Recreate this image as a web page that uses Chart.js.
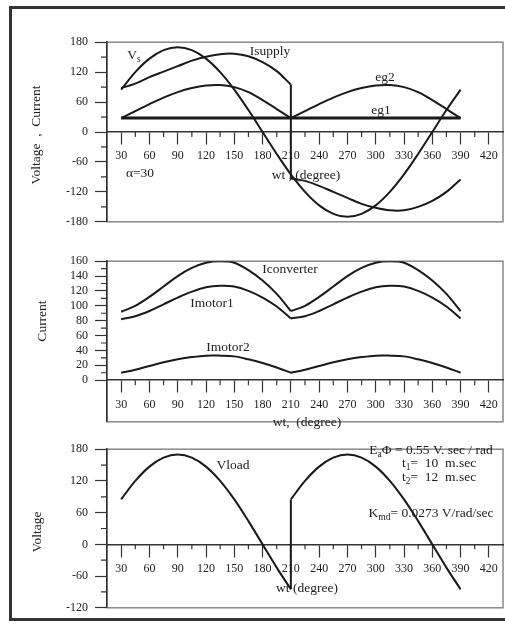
<!DOCTYPE html>
<html>
<head>
<meta charset="utf-8">
<script src="https://cdn.jsdelivr.net/npm/chart.js@4.4.1/dist/chart.umd.min.js"></script>
<style>
  body { margin: 0; background: #fff; width: 505px; height: 632px; overflow: hidden; position: relative;
         font-family: 'Liberation Serif', 'Times New Roman', serif; color: #222; }
  #frame { position: absolute; left: 9px; top: 6px; width: 520px; height: 609px; border: 3px solid #333; }
  canvas { position: absolute; left: 0; }
  .t { position: absolute; transform: translate(-50%, -50%); white-space: pre; font-size: 13.5px; line-height: 1; }
  .r { transform: translate(-50%, -50%) rotate(-90deg); }
  sub { font-size: 9.5px; vertical-align: -3px; line-height: 0; }
</style>
</head>
<body>
<div id="frame"></div>
<canvas id="c1"></canvas>
<canvas id="c2"></canvas>
<canvas id="c3"></canvas>

<!-- top chart labels -->
<div class="t r" style="left:36px;top:135px">Voltage  ,  Current</div>
<div class="t" style="left:134px;top:55px">V<sub>s</sub></div>
<div class="t" style="left:270px;top:51px">Isupply</div>
<div class="t" style="left:385px;top:77px">eg2</div>
<div class="t" style="left:381px;top:110px">eg1</div>
<div class="t" style="left:140px;top:173px">α=30</div>
<div class="t" style="left:306px;top:175px">wt , (degree)</div>

<!-- middle chart labels -->
<div class="t r" style="left:42px;top:321px">Current</div>
<div class="t" style="left:290px;top:269px">Iconverter</div>
<div class="t" style="left:212px;top:303px">Imotor1</div>
<div class="t" style="left:228px;top:347px">Imotor2</div>
<div class="t" style="left:307px;top:422px">wt,  (degree)</div>

<!-- bottom chart labels -->
<div class="t r" style="left:37px;top:532px">Voltage</div>
<div class="t" style="left:233px;top:465px">Vload</div>
<div class="t" style="left:431px;top:450px">E<sub>a</sub>Φ = 0.55 V. sec / rad</div>
<div class="t" style="left:439px;top:463px">t<sub>1</sub>=  10  m.sec</div>
<div class="t" style="left:439px;top:477px">t<sub>2</sub>=  12  m.sec</div>
<div class="t" style="left:431px;top:513px">K<sub>md</sub>= 0.0273 V/rad/sec</div>
<div class="t" style="left:307px;top:588px">wt (degree)</div>

<script>
// angle (degrees) samples
const deg = [30, 45, 60, 75, 90, 105, 120, 135, 150, 165, 180, 195, 210,
             225, 240, 255, 270, 285, 300, 315, 330, 345, 360, 375, 390];
const degA = deg.slice(0, 13);   // 30..210
const degB = deg.slice(12);      // 210..390

const xTicks = [30, 60, 90, 120, 150, 180, 210, 240, 270, 300, 330, 360, 390, 420];
const yTicks1 = [-180, -120, -60, 0, 60, 120, 180];
const yTicks2 = [0, 20, 40, 60, 80, 100, 120, 140, 160];
const yTicks3 = [-120, -60, 0, 60, 120, 180];

// top chart
const vs = [85, 120, 147, 164, 170, 164, 147, 120, 85, 44, 0, -44, -85,
            -120, -147, -164, -170, -164, -147, -120, -85, -44, 0, 44, 85];
const eg1 = [28, 28, 28, 28, 28, 28, 28, 28, 28, 28, 28, 28, 28,
             28, 28, 28, 28, 28, 28, 28, 28, 28, 28, 28, 28];
const eg2 = [28, 42, 56, 69, 80, 88, 93, 94, 90, 80, 64, 46, 28,
             42, 56, 69, 80, 88, 93, 94, 90, 80, 64, 46, 28];
const iSupplyA = [88, 97, 110, 121, 132, 143, 151, 156, 157, 152, 140, 122, 95];
const iSupplyB = [-93, -98, -108, -120, -132, -144, -152, -157, -157, -150, -138, -120, -95];

// middle chart
const iConverter = [92, 100, 112, 126, 140, 151, 158, 160, 158, 148, 134, 116, 93,
                    100, 112, 126, 140, 151, 158, 160, 158, 148, 134, 116, 93];
const iMotor1 = [82, 86, 93, 102, 111, 119, 125, 127, 126, 120, 111, 99, 83,
                 86, 93, 102, 111, 119, 125, 127, 126, 120, 111, 99, 83];
const iMotor2 = [10, 14, 19, 24, 28, 31, 33, 33, 32, 28, 23, 17, 10,
                 14, 19, 24, 28, 31, 33, 33, 32, 28, 23, 17, 10];

// bottom chart
const vLoadA = [85, 120, 147, 164, 170, 164, 147, 120, 85, 44, 0, -44, -85];
const vLoadB = [85, 120, 147, 164, 170, 164, 147, 120, 85, 44, 0, -44, -85];

Chart.defaults.font.family = "'Liberation Serif', 'Times New Roman', serif";
Chart.defaults.font.size = 12;
Chart.defaults.color = '#222';

// plot box + minor ticks
const boxAndMinor = {
  id: 'boxAndMinor',
  beforeDraw(chart) {
    const { ctx, chartArea: a } = chart;
    ctx.save();
    ctx.strokeStyle = '#888';
    ctx.lineWidth = 1.5;
    ctx.strokeRect(a.left, a.top, a.width, a.height);
    ctx.restore();
  },
  afterDraw(chart) {
    const { ctx, chartArea: a, scales: { x, y } } = chart;
    const y0 = y.getPixelForValue(0);
    ctx.save();
    ctx.strokeStyle = '#333';
    ctx.lineWidth = 1.2;
    ctx.beginPath();
    for (let i = 0; i < x.ticks.length - 1; i++) {
      const px = x.getPixelForValue((x.ticks[i].value + x.ticks[i + 1].value) / 2);
      ctx.moveTo(px, y0);
      ctx.lineTo(px, y0 + 5);
    }
    for (let i = 0; i < y.ticks.length - 1; i++) {
      const py = y.getPixelForValue((y.ticks[i].value + y.ticks[i + 1].value) / 2);
      ctx.moveTo(a.left - 6, py);
      ctx.lineTo(a.left, py);
    }
    ctx.stroke();
    ctx.restore();
  }
};

function line(xs, ys, width = 2, tension = 0.35) {
  return {
    data: xs.map((x, i) => ({ x, y: ys[i] })),
    borderColor: '#1a1a1a',
    borderWidth: width,
    pointRadius: 0,
    tension,
    fill: false
  };
}

// a periodic curve with a sharp notch at 210: draw each half on its own
function halves(ys, width = 2) {
  return [line(degA, ys.slice(0, 13), width), line(degB, ys.slice(12), width)];
}

function makeChart(id, top, height, yMin, yMax, yTicks, datasets) {
  const cv = document.getElementById(id);
  cv.width = 505;
  cv.height = height;
  cv.style.top = top + 'px';
  return new Chart(cv, {
    type: 'line',
    data: { datasets },
    options: {
      responsive: false,
      animation: false,
      layout: { padding: { top: 10, bottom: 10, left: 0, right: 2 } },
      plugins: { legend: { display: false }, tooltip: { enabled: false } },
      scales: {
        x: {
          type: 'linear', min: 15, max: 435, position: { y: 0 },
          afterBuildTicks: s => { s.ticks = xTicks.map(v => ({ value: v })); },
          grid: { drawOnChartArea: false, tickLength: 12, color: '#333', tickWidth: 1.2 },
          border: { color: '#333', width: 1.5 },
          ticks: { padding: 5, autoSkip: false, maxRotation: 0 }
        },
        y: {
          min: yMin, max: yMax,
          afterBuildTicks: s => { s.ticks = yTicks.map(v => ({ value: v })); },
          afterFit: s => { s.width = 107; },
          grid: { drawOnChartArea: false, tickLength: 12, color: '#333', tickWidth: 1.2 },
          border: { color: '#333', width: 1.5 },
          ticks: { padding: 7 }
        }
      }
    },
    plugins: [boxAndMinor]
  });
}

makeChart('c1', 28, 208, -180, 180, yTicks1, [
  line(deg, vs),
  line(deg, eg1, 3, 0),
  ...halves(eg2),
  line(degA, iSupplyA),
  line([210, 210], [iSupplyA[12], iSupplyB[0]], 2, 0),
  line(degB, iSupplyB)
]);

makeChart('c2', 247, 189, -56, 160, yTicks2, [
  ...halves(iConverter),
  ...halves(iMotor1),
  ...halves(iMotor2)
]);

makeChart('c3', 435, 187, -120, 180, yTicks3, [
  line(degA, vLoadA),
  line([210, 210], [vLoadA[12], vLoadB[0]], 2, 0),
  line(degB, vLoadB)
]);
</script>
</body>
</html>
